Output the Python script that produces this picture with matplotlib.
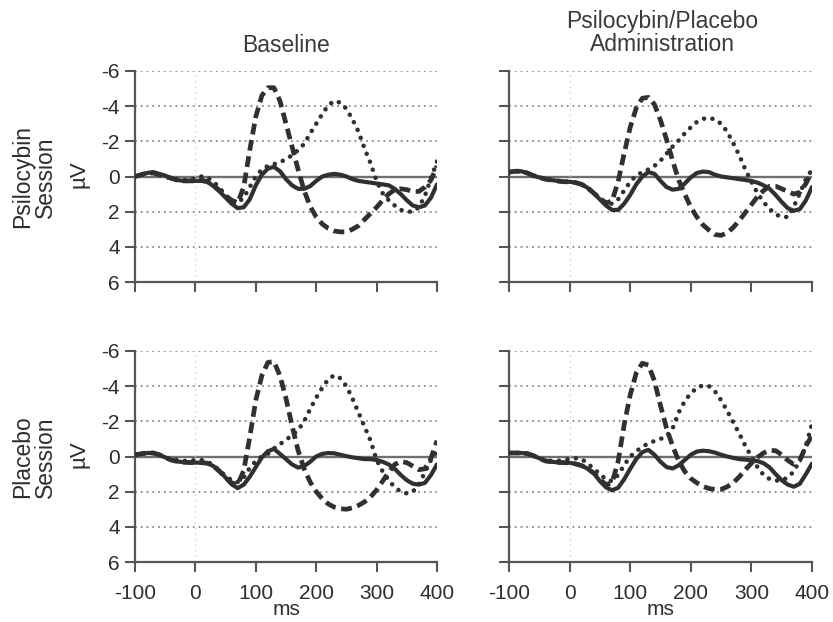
import matplotlib
matplotlib.use("Agg")
import matplotlib.pyplot as plt

plt.rcParams['font.family'] = ['Liberation Sans', 'DejaVu Sans']
plt.rcParams['axes.unicode_minus'] = False

# time axis (ms)
ms = list(range(-100, 401, 10))

# Psilocybin session, Baseline
psi_base_solid = [0.0, -0.1, -0.2, -0.25, -0.15, -0.05, 0.1, 0.2, 0.25, 0.25,
                  0.25, 0.25, 0.3, 0.55, 0.85, 1.2, 1.55, 1.8, 1.75, 1.3,
                  0.5, -0.1, -0.45, -0.55, -0.3, 0.15, 0.5, 0.7, 0.7, 0.55,
                  0.25, 0.0, -0.1, -0.15, -0.1, 0.0, 0.15, 0.25, 0.3, 0.35,
                  0.4, 0.45, 0.5, 0.7, 1.0, 1.35, 1.65, 1.75, 1.65, 1.2, 0.45]
psi_base_dash = [0.0, -0.1, -0.2, -0.2, -0.1, 0.0, 0.1, 0.2, 0.25, 0.25,
                 0.25, 0.2, 0.3, 0.5, 0.8, 1.1, 1.35, 1.5, 0.6, -1.5,
                 -3.4, -4.6, -5.05, -5.05, -4.3, -3.0, -1.7, -0.4, 0.8, 1.7,
                 2.3, 2.7, 2.95, 3.1, 3.15, 3.15, 3.0, 2.8, 2.45, 2.1,
                 1.75, 1.35, 1.0, 0.75, 0.7, 0.75, 0.85, 0.85, 0.6, 0.2, -0.6]
psi_base_dot = [0.0, -0.1, -0.2, -0.2, -0.1, 0.0, 0.1, 0.15, 0.2, 0.2,
                0.1, 0.0, 0.05, 0.3, 0.65, 1.05, 1.4, 1.5, 1.2, 0.6,
                0.0, -0.4, -0.6, -0.7, -0.8, -1.0, -1.2, -1.5, -1.85, -2.45,
                -3.0, -3.55, -4.05, -4.3, -4.2, -3.85, -3.25, -2.55, -1.6, -0.75,
                0.25, 0.95, 1.35, 1.65, 1.9, 2.0, 2.0, 1.75, 1.1, 0.1, -0.85]

# Psilocybin session, Administration
psi_adm_solid = [-0.25, -0.3, -0.3, -0.2, -0.05, 0.05, 0.15, 0.2, 0.25, 0.3,
                 0.3, 0.35, 0.45, 0.65, 0.95, 1.3, 1.65, 1.9, 1.9, 1.55,
                 1.05, 0.45, 0.0, -0.25, -0.15, 0.25, 0.6, 0.75, 0.7, 0.4,
                 0.05, -0.2, -0.28, -0.25, -0.1, 0.0, 0.05, 0.1, 0.15, 0.2,
                 0.25, 0.35, 0.5, 0.7, 1.05, 1.45, 1.8, 1.95, 1.85, 1.35, 0.6]
psi_adm_dash = [-0.25, -0.3, -0.3, -0.2, -0.05, 0.05, 0.15, 0.2, 0.25, 0.3,
                0.3, 0.35, 0.45, 0.65, 0.95, 1.25, 1.5, 1.4, 0.3, -1.3,
                -2.8, -3.9, -4.45, -4.5, -4.1, -3.2, -2.1, -0.9, 0.2, 1.0,
                1.75, 2.3, 2.75, 3.05, 3.3, 3.35, 3.2, 2.9, 2.5, 2.05,
                1.6, 1.15, 0.8, 0.55, 0.55, 0.7, 0.85, 1.0, 0.9, 0.4, -0.3]
psi_adm_dot = [-0.2, -0.3, -0.3, -0.2, -0.05, 0.05, 0.15, 0.2, 0.25, 0.3,
               0.3, 0.35, 0.45, 0.65, 0.95, 1.25, 1.5, 1.55, 1.3, 0.8,
               0.3, -0.05, -0.25, -0.4, -0.6, -0.9, -1.3, -1.7, -2.05, -2.45,
               -2.8, -3.1, -3.28, -3.33, -3.25, -3.0, -2.55, -1.9, -1.2, -0.4,
               0.3, 0.95, 1.45, 1.85, 2.15, 2.3, 2.3, 1.7, 0.95, 0.15, -0.4]

# Placebo session, Baseline
pla_base_solid = [-0.1, -0.15, -0.2, -0.2, -0.1, 0.05, 0.2, 0.28, 0.32, 0.34,
                  0.35, 0.35, 0.38, 0.55, 0.82, 1.2, 1.58, 1.8, 1.6, 1.15,
                  0.6, 0.05, -0.3, -0.43, -0.15, 0.15, 0.45, 0.63, 0.55, 0.3,
                  0.0, -0.15, -0.2, -0.18, -0.1, -0.02, 0.05, 0.1, 0.15, 0.15,
                  0.2, 0.3, 0.45, 0.7, 1.05, 1.35, 1.55, 1.6, 1.5, 1.05, 0.45]
pla_base_dash = [-0.1, -0.15, -0.2, -0.2, -0.1, 0.05, 0.2, 0.28, 0.32, 0.34,
                 0.35, 0.35, 0.38, 0.55, 0.85, 1.2, 1.5, 1.6, 0.8, -1.1,
                 -3.2, -4.6, -5.35, -5.4, -4.6, -3.3, -1.75, -0.35, 0.7, 1.45,
                 2.0, 2.4, 2.7, 2.88, 2.97, 3.0, 2.92, 2.78, 2.58, 2.3,
                 1.9, 1.4, 0.9, 0.45, 0.28, 0.35, 0.55, 0.75, 0.7, 0.1, -0.9]
pla_base_dot = [-0.1, -0.15, -0.2, -0.2, -0.1, 0.05, 0.15, 0.2, 0.25, 0.25,
                0.2, 0.2, 0.3, 0.5, 0.8, 1.1, 1.35, 1.45, 1.2, 0.65,
                0.25, 0.0, -0.15, -0.45, -0.7, -0.95, -1.2, -1.5, -2.0, -2.7,
                -3.35, -3.9, -4.4, -4.62, -4.45, -4.0, -3.3, -2.5, -1.7, -0.9,
                0.2, 0.85, 1.35, 1.75, 2.0, 2.1, 2.0, 1.6, 0.9, 0.2, -0.3]

# Placebo session, Administration
pla_adm_solid = [-0.2, -0.2, -0.2, -0.17, -0.05, 0.1, 0.25, 0.3, 0.33, 0.35,
                 0.36, 0.42, 0.52, 0.7, 0.95, 1.4, 1.75, 1.92, 1.78, 1.3,
                 0.7, 0.15, -0.25, -0.38, -0.1, 0.3, 0.6, 0.68, 0.5, 0.2,
                 -0.1, -0.28, -0.33, -0.3, -0.22, -0.1, 0.0, 0.08, 0.15, 0.18,
                 0.22, 0.26, 0.38, 0.62, 1.0, 1.35, 1.6, 1.72, 1.55, 1.0, 0.4]
pla_adm_dash = [-0.2, -0.2, -0.2, -0.17, -0.05, 0.1, 0.25, 0.3, 0.33, 0.35,
                0.36, 0.42, 0.52, 0.7, 0.95, 1.3, 1.6, 1.5, 0.3, -1.8,
                -3.5, -4.75, -5.3, -5.2, -4.3, -2.9, -1.6, -0.6, 0.25, 0.85,
                1.25, 1.5, 1.7, 1.82, 1.88, 1.87, 1.72, 1.5, 1.15, 0.75,
                0.38, 0.05, -0.2, -0.35, -0.33, -0.1, 0.22, 0.45, 0.2, -0.6, -1.2]
pla_adm_dot = [-0.2, -0.2, -0.2, -0.15, -0.05, 0.1, 0.2, 0.25, 0.25, 0.2,
               0.15, 0.1, 0.15, 0.4, 0.7, 1.0, 1.3, 1.4, 1.05, 0.5,
               0.0, -0.3, -0.55, -0.75, -0.88, -1.0, -1.15, -1.6, -2.5, -3.15,
               -3.6, -3.9, -4.05, -4.0, -3.7, -3.2, -2.6, -1.95, -1.3, -0.6,
               0.0, 0.6, 1.05, 1.28, 1.37, 1.36, 1.2, 0.85, 0.2, -0.6, -1.85]

col_titles = ["Baseline", "Psilocybin/Placebo\nAdministration"]
row_labels = ["Psilocybin\nSession", "Placebo\nSession"]
unit_label = "\u00b5V"
x_label = "ms"
x_ticks = [-100, 0, 100, 200, 300, 400]
y_ticks = [-6, -4, -2, 0, 2, 4, 6]

panels = [[(psi_base_solid, psi_base_dash, psi_base_dot),
           (psi_adm_solid, psi_adm_dash, psi_adm_dot)],
          [(pla_base_solid, pla_base_dash, pla_base_dot),
           (pla_adm_solid, pla_adm_dash, pla_adm_dot)]]

W, H = 833, 622
fig = plt.figure(figsize=(W / 100, H / 100), dpi=100)

lefts = [135 / W, 509 / W]
widths = [302 / W, 303 / W]
bottoms = [1 - 282 / H, 1 - 562 / H]
height = 211 / H

line_col = '#303030'
spine_col = '#555555'
text_col = '#2e2e2e'

for r in range(2):
    for c in range(2):
        ax = fig.add_axes([lefts[c], bottoms[r], widths[c], height])
        solid, dash, dot = panels[r][c]
        ax.set_xlim(-100, 400)
        ax.set_ylim(6, -6)
        for g in [-6, -4, -2, 2, 4]:
            ax.axhline(g, color='#888888', lw=1.3, ls=(0, (1, 2.2)), zorder=1)
        ax.axhline(0, color='#707070', lw=1.7, zorder=1)
        ax.axvline(0, color='#d0d0d0', lw=1.0, ls=(0, (1, 3)), zorder=1)
        ax.plot(ms, dot, color=line_col, lw=3.3, ls=(0, (0.01, 1.85)),
                dash_capstyle='round', zorder=3)
        ax.plot(ms, dash, color=line_col, lw=3.4, ls=(0, (2.3, 1.2)),
                dash_capstyle='butt', zorder=4)
        ax.plot(ms, solid, color=line_col, lw=3.0, zorder=5,
                solid_joinstyle='round', solid_capstyle='round')
        for s in ['top', 'right']:
            ax.spines[s].set_visible(False)
        for s in ['left', 'bottom']:
            ax.spines[s].set_color(spine_col)
            ax.spines[s].set_linewidth(1.6)
        ax.set_xticks(x_ticks)
        ax.set_yticks(y_ticks)
        ax.tick_params(axis='both', direction='out', length=7, width=1.5,
                       color=spine_col, labelsize=15, labelcolor=text_col)
        ax.tick_params(axis='x', pad=9)
        ax.tick_params(axis='y', pad=4)
        if r == 0:
            ax.set_xticklabels([])
        else:
            ax.set_xticklabels([str(t) for t in x_ticks])
        if c == 1:
            ax.set_yticklabels([])
        else:
            ax.set_yticklabels([str(t) for t in y_ticks])
        if r == 1:
            ax.set_xlabel(x_label, fontsize=15, color=text_col, labelpad=-2)

# column titles
fig.text(286 / W, 1 - 46 / H, col_titles[0], ha='center', va='center',
         fontsize=16.5, color='#3a3a3a')
fig.text(662 / W, 1 - 33 / H, col_titles[1], ha='center', va='center',
         fontsize=16.5, color='#3a3a3a', linespacing=1.05)

# row labels
row_centers = [177, 457]
for r in range(2):
    fig.text(34 / W, 1 - row_centers[r] / H, row_labels[r], rotation=90,
             ha='center', va='center', fontsize=16.5, color=text_col,
             linespacing=1.0)
    fig.text(79 / W, 1 - (row_centers[r] - 3) / H, unit_label, rotation=90,
             ha='center', va='center', fontsize=16, color=text_col)

fig.savefig('out.png', dpi=100, facecolor='white')
